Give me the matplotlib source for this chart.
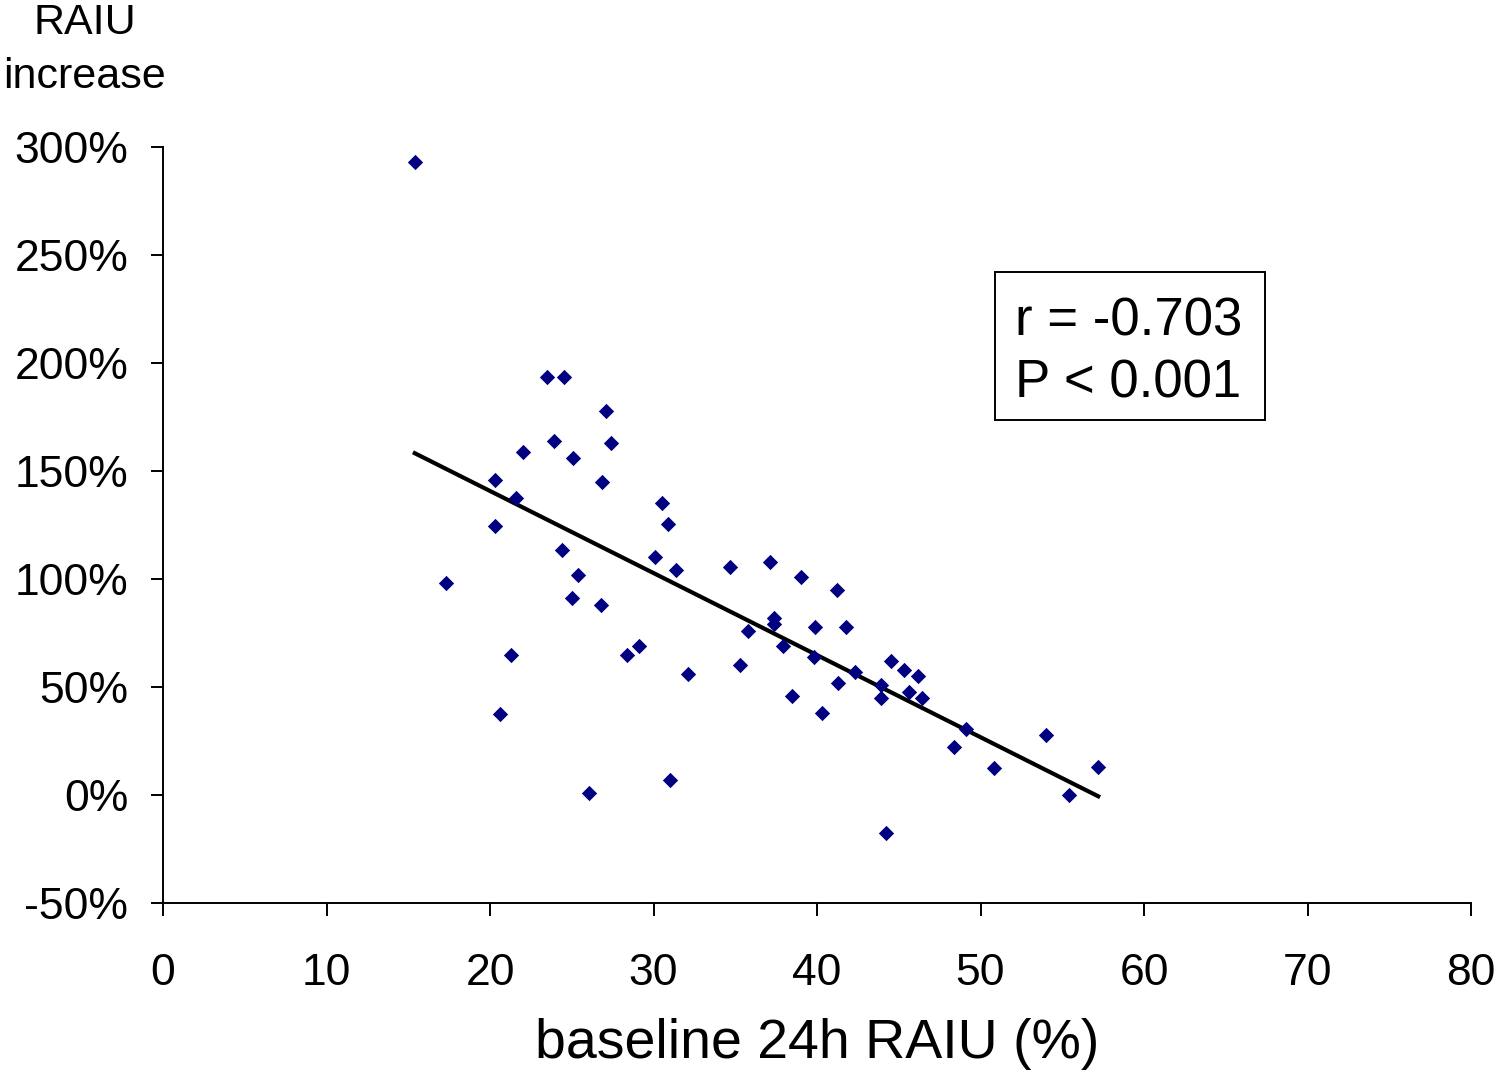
import numpy as np
import matplotlib.pyplot as plt
from matplotlib.patches import Rectangle
from matplotlib.ticker import FuncFormatter

plt.rcParams['font.family'] = ['Liberation Sans', 'DejaVu Sans']

# baseline 24h RAIU (%) and RAIU increase (%)
baseline = [15.4, 17.3, 20.3, 20.3, 20.6, 21.3, 21.6, 22.0, 23.5, 23.9,
            24.4, 24.5, 25.0, 25.1, 25.4, 26.05, 26.8, 26.85, 27.1, 27.4,
            28.4, 29.1, 30.1, 30.5, 30.9, 31.0, 31.4, 32.1, 34.7, 35.3,
            35.8, 37.1, 37.4, 37.4, 37.9, 38.5, 39.0, 39.8, 39.9, 40.3,
            41.2, 41.3, 41.8, 42.3, 43.9, 43.9, 44.2, 44.5, 45.3, 45.6,
            46.2, 46.4, 48.4, 49.1, 50.8, 54.0, 55.4, 57.2]
increase = [293, 98, 146, 124.5, 37.5, 65, 137.5, 159, 193.5, 164,
            113.4, 193.5, 91, 156, 102, 1, 88, 145, 178, 163,
            65, 69, 110, 135, 125.5, 7, 104, 56, 105.5, 60,
            76, 108, 82, 79, 69, 46, 101, 64, 78, 38,
            95, 52, 78, 57, 51, 45, -17.6, 62, 58, 47.7,
            55, 45, 22, 30.5, 12.5, 28, 0, 13]

r_text = "r = -0.703"
p_text = "P < 0.001"
x_ticks = np.arange(0, 81, 10)
y_ticks = np.arange(-50, 301, 50)

W, H = 1497, 1073
fig = plt.figure(figsize=(W / 100, H / 100), dpi=100)
ax = fig.add_axes([163 / W, 1 - 903 / H, (1471 - 163) / W, (903 - 147) / H])

x = np.array(baseline)
y = np.array(increase)
ax.scatter(x, y, marker='D', s=7.8 ** 2, color='#000080', linewidths=0, zorder=3)

# least squares trend line over the data range
slope, icpt = np.polyfit(x, y, 1)
xs = np.array([x.min(), x.max()])
ax.plot(xs, slope * xs + icpt, color='black', lw=3, zorder=2)

ax.set_xlim(0, 80)
ax.set_ylim(-50, 300)
ax.set_xticks(x_ticks)
ax.set_yticks(y_ticks)
ax.yaxis.set_major_formatter(FuncFormatter(lambda v, p: "%d%%" % v))

for s in ['top', 'right']:
    ax.spines[s].set_visible(False)
for s in ['left', 'bottom']:
    ax.spines[s].set_linewidth(1.4)
ax.tick_params(direction='out', length=9, width=1.4, labelsize=32)
ax.tick_params(axis='x', pad=27)
ax.tick_params(axis='y', pad=16)

ax.set_xlabel("baseline 24h RAIU (%)", fontsize=40, labelpad=17)
fig.text(85 / W, 1 - 50 / H, "RAIU\nincrease", fontsize=31, ha='center',
         va='center', linespacing=1.45)

# stats box
fig.patches.append(Rectangle((995 / W, 1 - 420 / H), 270 / W, 148 / H,
                             transform=fig.transFigure, fill=False,
                             edgecolor='black', lw=1.4))
fig.text(1015 / W, 1 - 335 / H, r_text, fontsize=38, va='baseline')
fig.text(1015 / W, 1 - 398 / H, p_text, fontsize=38, va='baseline')

fig.savefig("out.png", dpi=100)
